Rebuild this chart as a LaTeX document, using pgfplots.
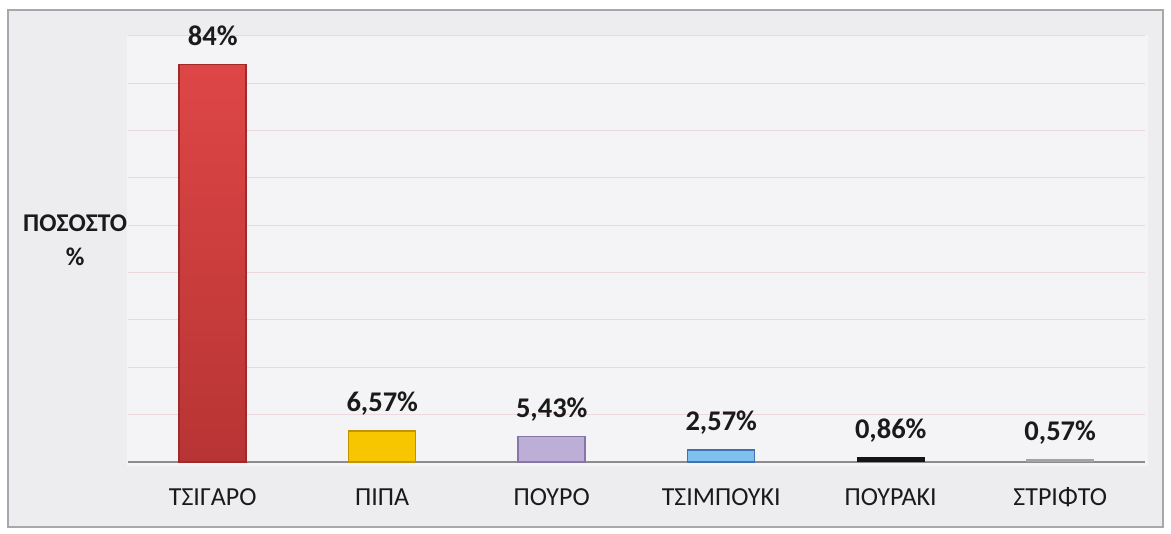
\documentclass[border=0pt]{standalone}
\usepackage{pgfplots}
\pgfplotsset{compat=1.18}
\usepackage{fontspec}
\setmainfont{Carlito}
\definecolor{bgout}{HTML}{EDEDF0}
\definecolor{bgin}{HTML}{F4F4F6}
\definecolor{framegray}{HTML}{A8A8AC}
\definecolor{gridpink}{HTML}{EBD8DB}
\definecolor{basegray}{HTML}{8C8C90}
\definecolor{credT}{HTML}{DE4646}
\definecolor{credB}{HTML}{B83434}
\definecolor{credE}{HTML}{A02A2A}
\definecolor{cyel}{HTML}{F7C600}
\definecolor{cyelE}{HTML}{C29400}
\definecolor{clav}{HTML}{BCAED6}
\definecolor{clavE}{HTML}{8676A8}
\definecolor{cblu}{HTML}{7FC0EE}
\definecolor{cbluE}{HTML}{3F72B0}
\definecolor{cblk}{HTML}{151515}
\definecolor{cgry}{HTML}{A4A4A8}
\definecolor{txt}{HTML}{1A1A1A}
\begin{document}
\begin{tikzpicture}
\fill[white] (-128pt,-72pt) rectangle (1043pt,462pt);
\filldraw[fill=bgout, draw=framegray, line width=1.5pt] (-120pt,-65pt) rectangle (1035pt,452pt);
\fill[bgin] (-1pt,-4pt) rectangle (1020pt,427pt);
\begin{axis}[
  scale only axis, width=1017pt, height=426pt,
  xmin=-0.5, xmax=5.5, ymin=0, ymax=90,
  ytick={10,20,...,90}, yticklabels={},
  ymajorgrids, grid style={color=gridpink, line width=1pt},
  extra y ticks={0}, extra y tick labels={},
  extra y tick style={grid style={color=basegray, line width=1.6pt}},
  xtick={0,...,5},
  xticklabels={ΤΣΙΓΑΡΟ,ΠΙΠΑ,ΠΟΥΡΟ,ΤΣΙΜΠΟΥΚΙ,ΠΟΥΡΑΚΙ,ΣΤΡΙΦΤΟ},
  major tick length=0pt,
  axis line style={draw=none},
  ybar, bar width=67pt, bar shift=0pt,
  nodes near coords, point meta=explicit symbolic,
  every node near coord/.append style={font=\fontsize{28.5}{30}\selectfont\bfseries, anchor=base, yshift=19pt, text=txt, inner sep=0pt},
  xticklabel style={font=\fontsize{26}{28}\selectfont, anchor=base, yshift=-44pt, text=txt, inner sep=0pt},
  ylabel={ΠΟΣΟΣΤΟ\\\%},
  ylabel style={rotate=-90, align=center, anchor=center, at={(axis description cs:-0.052,0.521)}, font=\fontsize{25.5}{34}\selectfont\bfseries, text=txt},
  clip=false,
]
\addplot[top color=credT, bottom color=credB, draw=credE, line width=1.5pt] coordinates {(0,84) [84\%]};
\addplot[fill=cyel, draw=cyelE, line width=1.5pt] coordinates {(1,6.57) [6,57\%]};
\addplot[fill=clav, draw=clavE, line width=1.5pt] coordinates {(2,5.43) [5,43\%]};
\addplot[fill=cblu, draw=cbluE, line width=1.5pt] coordinates {(3,2.57) [2,57\%]};
\addplot[fill=cblk, draw=cblk, line width=1pt] coordinates {(4,0.86) [0,86\%]};
\addplot[fill=cgry, draw=cgry, line width=1pt] coordinates {(5,0.57) [0,57\%]};
\end{axis}
\end{tikzpicture}
\end{document}
